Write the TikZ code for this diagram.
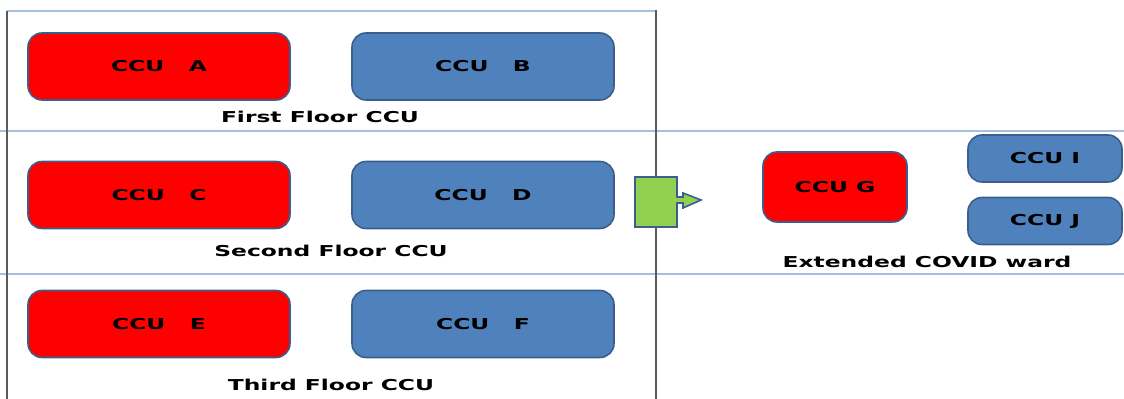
\documentclass[tikz,border=0pt]{standalone}
\usepackage{fontspec}
\setmainfont{DejaVu Sans}
\usepackage{graphicx}
\definecolor{ccured}{HTML}{FF0000}
\definecolor{ccublue}{HTML}{4F81BD}
\definecolor{ccuedge}{HTML}{3A5F8C}
\definecolor{floorline}{HTML}{A7BFDE}
\definecolor{wallline}{HTML}{5A5A5A}
\definecolor{movegreen}{HTML}{92D050}
\newcommand{\wtext}[1]{\scalebox{1.56}[1]{#1}}
\tikzset{
  unit/.style={draw=ccuedge, line width=0.8pt, rounded corners=7pt,
    minimum width=131pt, minimum height=33.5pt, inner sep=0pt,
    font=\bfseries\fontsize{7.5}{8}\selectfont},
  redunit/.style={unit, fill=ccured},
  blueunit/.style={unit, fill=ccublue},
  floorname/.style={font=\bfseries\fontsize{7.5}{8}\selectfont, inner sep=0pt}
}
\begin{document}
\begin{tikzpicture}[x=0.5pt, y=-0.5pt]
  \useasboundingbox (0,0) rectangle (1124,399);
  % floors
  \draw[floorline, line width=0.9pt] (7,11) -- (656,11);
  \draw[floorline, line width=0.9pt] (0,131) -- (1124,131);
  \draw[floorline, line width=0.9pt] (0,274) -- (1124,274);
  \draw[wallline, line width=1pt] (7,11) -- (7,399);
  \draw[wallline, line width=1pt] (656,10) -- (656,399);
  % first floor
  \node[redunit] (ccuA) at (159,66.5) {\wtext{CCU\ \ \ A}};
  \node[blueunit] (ccuB) at (483,66.5) {\wtext{CCU\ \ \ B}};
  \node[floorname] (first) at (320,117) {\wtext{First Floor CCU}};
  % second floor
  \node[redunit] (ccuC) at (159,195) {\wtext{CCU\ \ \ C}};
  \node[blueunit] (ccuD) at (483,195) {\wtext{CCU\ \ \ D}};
  \node[floorname] (second) at (331,251) {\wtext{Second Floor CCU}};
  % third floor
  \node[redunit] (ccuE) at (159,324) {\wtext{CCU\ \ \ E}};
  \node[blueunit] (ccuF) at (483,324) {\wtext{CCU\ \ \ F}};
  \node[floorname] (third) at (331,385) {\wtext{Third Floor CCU}};
  % shift to extended ward
  \draw[fill=movegreen, draw=ccuedge, line width=0.8pt]
    (635,177) -- (677,177) -- (677,197) -- (683,197) -- (683,193)
    -- (701,200) -- (683,208) -- (683,203) -- (677,203) -- (677,227)
    -- (635,227) -- cycle;
  % extended COVID ward
  \node[redunit, minimum width=72pt, minimum height=35pt] (ccuG) at (835,187) {\wtext{CCU G}};
  \node[blueunit, minimum width=77pt, minimum height=23.5pt] (ccuI) at (1045,158.5) {\wtext{CCU I}};
  \node[blueunit, minimum width=77pt, minimum height=23.5pt] (ccuJ) at (1045,221) {\wtext{CCU J}};
  \node[floorname] (ward) at (927,262) {\wtext{Extended COVID ward}};
\end{tikzpicture}
\end{document}
